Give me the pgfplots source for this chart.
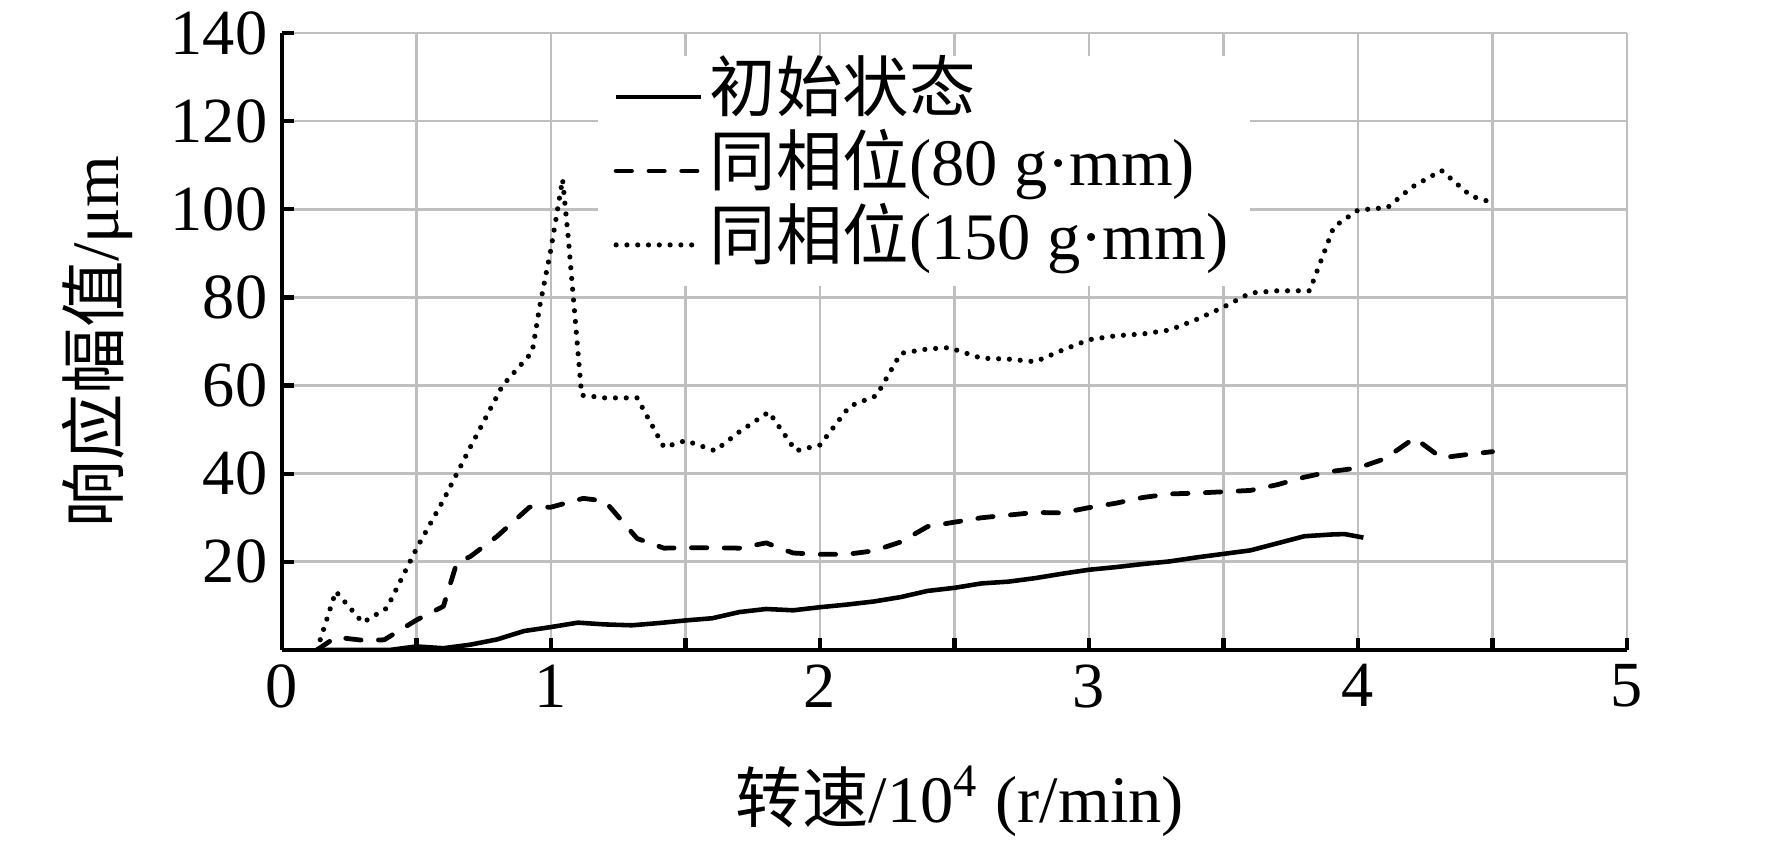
\documentclass[border=0pt]{standalone}
\usepackage{fontspec}
\setmainfont{Liberation Serif}
\newfontfamily\cjk{Noto Sans CJK SC}
\usepackage{pgfplots}
\pgfplotsset{compat=1.18}
\definecolor{gridgray}{RGB}{191,191,191}
\begin{document}
\begin{tikzpicture}
\path[use as bounding box] (-2.387cm,-1.617cm) rectangle (12.613cm,5.502cm);
\begin{axis}[
  at={(0,0)}, anchor=south west,
  scale only axis,
  width=11.386cm, height=5.223cm,
  xmin=0, xmax=5, ymin=0, ymax=140,
  axis x line*=bottom, axis y line*=left,
  axis line style={line width=1.05pt, -},
  xtick={0,0.5,...,5}, xticklabels={0,,1,,2,,3,,4,,5},
  ytick={0,20,...,140}, yticklabels={,20,40,60,80,100,120,140},
  tick align=inside,
  major tick length=0.1cm,
  tick style={line width=1.05pt, black},
  grid=major,
  grid style={line width=0.65pt, gridgray},
  /pgf/number format/assume math mode=true,
  ticklabel style={font=\fontsize{15.5}{18}\selectfont},
  xlabel={{\cjk 转速}/10\textsuperscript{4} (r/min)},
  ylabel={{\cjk 响应幅值}/μm},
  label style={font=\fontsize{16}{19}\selectfont},
  xlabel style={at={(axis description cs:0.504,-0.2447)}, anchor=center},
  ylabel style={at={(axis description cs:-0.1375,0.5)}, anchor=center},
  legend style={at={(axis description cs:0.234,0.964)}, anchor=north west,
    draw=none, fill=white, inner xsep=3.85pt, inner ysep=1pt,
    font=\fontsize{16}{19}\selectfont, row sep=0pt,
    nodes={inner xsep=1.45pt, inner ysep=0pt, text height=12.4pt, text depth=5.4pt}},
  legend cell align=left,
  legend image code/.code={\draw[#1] (0cm,0cm) -- (0.72cm,0cm);},
]
\addplot[black, line width=1.1pt, line join=round] coordinates {
(0.13,0) (0.4,0.0) (0.5,0.8) (0.6,0.4) (0.7,1.2) (0.8,2.4) (0.9,4.3) (1.0,5.2)
(1.1,6.2) (1.2,5.8) (1.3,5.6) (1.4,6.1) (1.5,6.7) (1.6,7.2) (1.7,8.6) (1.8,9.3)
(1.9,9.0) (2.0,9.7) (2.1,10.3) (2.2,11.0) (2.3,12.0) (2.4,13.4) (2.5,14.1) (2.6,15.1)
(2.7,15.5) (2.8,16.3) (2.9,17.3) (3.0,18.2) (3.1,18.8) (3.2,19.5) (3.3,20.1) (3.4,21.0)
(3.5,21.8) (3.6,22.6) (3.7,24.2) (3.8,25.8) (3.9,26.2) (3.95,26.3) (4.02,25.5)
};
\addlegendentry{{\cjk 初始状态}}
\addplot[black, line width=1.15pt, line cap=round, line join=round, dash pattern=on 3.7pt off 4.2pt] coordinates {
(0.13,0) (0.2,2.9) (0.3,2.2) (0.38,2.3) (0.5,6.8) (0.6,9.9) (0.65,19.8) (0.7,21.2)
(0.8,25.8) (0.92,32.4) (1.0,32.4) (1.12,34.4) (1.2,33.8) (1.32,25.3) (1.42,23.1)
(1.5,23.2) (1.6,23.2) (1.7,23.1) (1.8,24.3) (1.9,22.0) (2.0,21.7) (2.1,21.7) (2.2,22.5)
(2.3,24.5) (2.4,28.0) (2.5,29.0) (2.6,30.0) (2.7,30.6) (2.8,31.2) (2.9,31.1) (3.0,32.3)
(3.1,33.3) (3.2,34.6) (3.3,35.4) (3.4,35.6) (3.5,35.9) (3.6,36.2) (3.7,37.5) (3.8,39.2)
(3.9,40.5) (4.0,41.3) (4.1,43.4) (4.21,48.1) (4.31,43.6) (4.4,44.3) (4.5,45.0)
};
\addlegendentry{{\cjk 同相位}(80 g·mm)}
\addplot[black, line width=1.25pt, line cap=round, line join=round, dash pattern=on 0pt off 2.6pt] coordinates {
(0.13,0) (0.2,13.3) (0.3,6.2) (0.39,9.5) (0.5,23) (0.6,34) (0.7,46) (0.82,60)
(0.93,67.6) (0.96,78.6) (1.0,91) (1.043,106.8) (1.064,93.7) (1.114,57.8) (1.2,57.2)
(1.32,57.2) (1.42,46) (1.5,47.5) (1.61,45.2) (1.7,49.5) (1.81,54) (1.91,45.2) (2.0,46.5)
(2.11,55.3) (2.21,57.7) (2.3,67.3) (2.4,68.3) (2.48,68.6) (2.6,66.2) (2.7,66) (2.8,65.4)
(2.9,68) (3.0,70.4) (3.1,71.3) (3.2,71.7) (3.3,72.6) (3.4,75) (3.5,77.8) (3.6,81)
(3.7,81.5) (3.82,81.5) (3.91,96) (4.0,99.8) (4.11,100.4) (4.2,105) (4.31,108.8)
(4.42,103) (4.5,101.5)
};
\addlegendentry{{\cjk 同相位}(150 g·mm)}
\end{axis}
\end{tikzpicture}
\end{document}
